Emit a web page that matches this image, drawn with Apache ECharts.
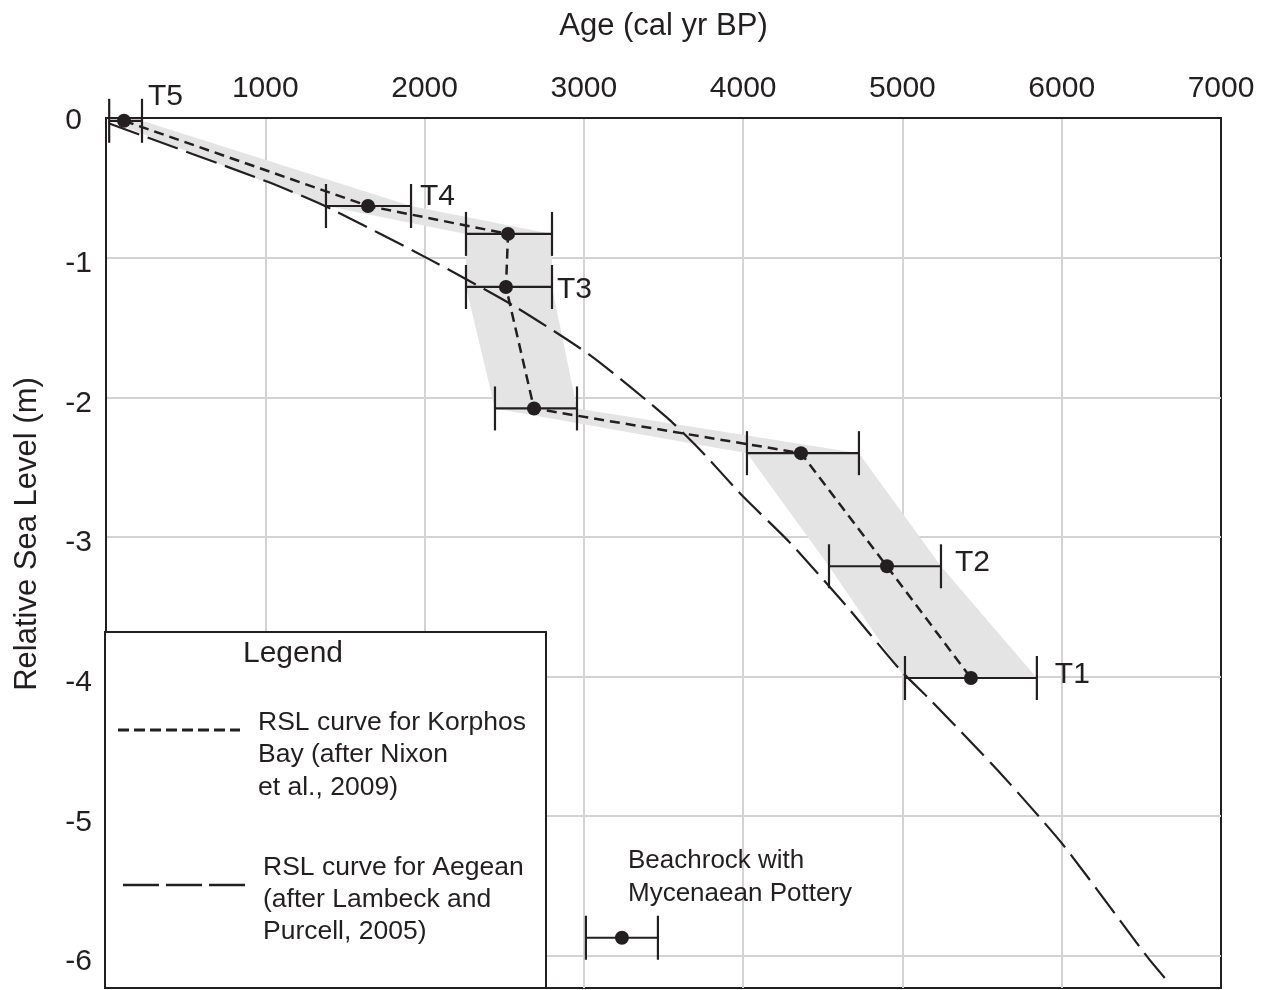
<!DOCTYPE html>
<html>
<head>
<meta charset="utf-8">
<title>RSL Korphos Bay</title>
<script src="https://cdn.jsdelivr.net/npm/echarts@6/dist/echarts.min.js"></script>
<style>
  html, body { margin: 0; padding: 0; background: #fff; }
  #chart { width: 1266px; height: 990px; }
</style>
</head>
<body>
<div id="chart"></div>
<script>
// Korphos Bay samples (T5 .. T1), age in cal yr BP, RSL in m
const sampleLabels = ['T5', 'T4', '', 'T3', '', '', 'T2', 'T1'];
const sampleAge = [113, 1645, 2524, 2511, 2687, 4363, 4903, 5430];
const sampleRsl = [-0.02, -0.63, -0.83, -1.21, -2.08, -2.40, -3.21, -4.01];
const sampleAgeMin = [20, 1381, 2260, 2260, 2442, 4024, 4539, 5016];
const sampleAgeMax = [226, 1915, 2800, 2800, 2957, 4727, 5242, 5844];

// beachrock with Mycenaean pottery
const beachAge = [3239];
const beachRsl = [-5.87];
const beachAgeMin = [3013];
const beachAgeMax = [3465];

// Aegean curve (Lambeck and Purcell, 2005)
const aegeanAge = [20, 1011, 1381, 2034, 2567, 3051, 3522, 3729, 4000, 4294, 4652, 4984, 5173, 5612, 6008, 6541, 6667];
const aegeanRsl = [-0.04, -0.455, -0.634, -1.014, -1.35, -1.708, -2.145, -2.375, -2.711, -3.041, -3.499, -3.95, -4.165, -4.688, -5.204, -6.013, -6.185];

// label nudges (px) next to the right end of each error bar
const labelDx = [6, 9, 0, 5, 0, 0, 14, 18];
const labelDy = [-24, -9, 0, 3, 0, 0, -4, -3];

const ink = '#231f20';
const font = '"Liberation Sans", Arial, Helvetica, sans-serif';

var myChart = echarts.init(document.getElementById('chart'));

function errorBar(params, api) {
    const y = api.value(1);
    const lo = api.coord([api.value(2), y]);
    const hi = api.coord([api.value(3), y]);
    const cap = 22;
    const style = { stroke: ink, lineWidth: 2.2 };
    const children = [
        { type: 'line', shape: { x1: lo[0], y1: lo[1], x2: hi[0], y2: hi[1] }, style: style },
        { type: 'line', shape: { x1: lo[0], y1: lo[1] - cap, x2: lo[0], y2: lo[1] + cap }, style: style },
        { type: 'line', shape: { x1: hi[0], y1: hi[1] - cap, x2: hi[0], y2: hi[1] + cap }, style: style }
    ];
    const name = params.seriesName === 'samples' ? sampleLabels[params.dataIndex] : '';
    if (name) {
        children.push({
            type: 'text',
            x: hi[0] + labelDx[params.dataIndex],
            y: hi[1] + labelDy[params.dataIndex],
            style: { text: name, fill: ink, font: '30px ' + font, textAlign: 'left', textVerticalAlign: 'middle' }
        });
    }
    return { type: 'group', children: children };
}

function band(params, api) {
    const pts = [];
    for (let i = 0; i < sampleAge.length; i++) {
        pts.push(api.coord([sampleAgeMax[i], sampleRsl[i]]));
    }
    for (let i = sampleAge.length - 1; i >= 0; i--) {
        pts.push(api.coord([sampleAgeMin[i], sampleRsl[i]]));
    }
    return { type: 'polygon', shape: { points: pts }, style: { fill: '#e4e4e4' } };
}

myChart.setOption({
    animation: false,
    textStyle: { fontFamily: font, color: ink },
    grid: {
        left: 106, top: 118, right: 45, bottom: 2,
        show: true,
        borderColor: ink,
        borderWidth: 2
    },
    xAxis: {
        type: 'value',
        position: 'top',
        min: 0,
        max: 7000,
        interval: 1000,
        name: 'Age (cal yr BP)',
        nameLocation: 'middle',
        nameGap: 76,
        nameTextStyle: { fontSize: 31, color: ink, fontFamily: font },
        axisLine: { show: true, lineStyle: { color: ink, width: 2 } },
        axisTick: { show: false },
        axisLabel: {
            fontSize: 30, color: ink, margin: 14, showMinLabel: false,
            formatter: function (v) { return String(v); }
        },
        splitLine: { showMinLine: false, showMaxLine: false, lineStyle: { color: '#d3d3d3', width: 2 } }
    },
    yAxis: {
        type: 'value',
        min: -6.23,
        max: 0,
        axisLine: { show: true, lineStyle: { color: ink, width: 2 } },
        axisTick: { show: false },
        axisLabel: {
            fontSize: 30, color: ink, margin: 14, showMinLabel: false,
            formatter: function (v) { return v === 0 ? '{z|0}' : '{n|' + v + '}'; },
            rich: {
                n: { fontSize: 30, color: ink, fontFamily: font, padding: [12, 0, 0, 0] },
                z: { fontSize: 30, color: ink, fontFamily: font, padding: [6, 10, 0, 0] }
            }
        },
        splitLine: { showMinLine: false, showMaxLine: false, lineStyle: { color: '#d3d3d3', width: 2 } }
    },
    series: [
        {
            name: 'band',
            type: 'custom',
            renderItem: band,
            data: [[sampleAge[0], sampleRsl[0]]],
            z: 1,
            silent: true
        },
        {
            name: 'Aegean',
            type: 'line',
            data: aegeanAge.map((a, i) => [a, aegeanRsl[i]]),
            showSymbol: false,
            smooth: 0.2,
            lineStyle: { color: ink, width: 2.2, type: [32, 9] },
            z: 3
        },
        {
            name: 'Korphos',
            type: 'line',
            data: sampleAge.map((a, i) => [a, sampleRsl[i]]),
            showSymbol: false,
            lineStyle: { color: ink, width: 2.5, type: [10, 6] },
            z: 4
        },
        {
            name: 'samples',
            type: 'custom',
            renderItem: errorBar,
            data: sampleAge.map((a, i) => [a, sampleRsl[i], sampleAgeMin[i], sampleAgeMax[i]]),
            z: 5
        },
        {
            name: 'beachrock',
            type: 'custom',
            renderItem: errorBar,
            data: beachAge.map((a, i) => [a, beachRsl[i], beachAgeMin[i], beachAgeMax[i]]),
            z: 5
        },
        {
            name: 'dots',
            type: 'scatter',
            symbolSize: 14,
            itemStyle: { color: ink, opacity: 1 },
            data: sampleAge.map((a, i) => [a, sampleRsl[i]]).concat(beachAge.map((a, i) => [a, beachRsl[i]])),
            z: 6
        }
    ],
    graphic: [
        {
            type: 'text', x: 27, y: 534, rotation: Math.PI / 2, z: 100,
            style: { text: 'Relative Sea Level (m)', font: '31px ' + font, fill: ink, textAlign: 'center', textVerticalAlign: 'middle' }
        },
        {
            type: 'text', x: 628, y: 844, z: 100,
            style: { text: 'Beachrock with\nMycenaean Pottery', font: '26px ' + font, lineHeight: 33, fill: ink, textAlign: 'left', textVerticalAlign: 'top' }
        },
        {
            type: 'rect', z: 100,
            shape: { x: 105, y: 632, width: 441, height: 356 },
            style: { fill: '#fff', stroke: ink, lineWidth: 2 }
        },
        {
            type: 'text', x: 293, y: 654, z: 101,
            style: { text: 'Legend', font: '30px ' + font, fill: ink, textAlign: 'center', textVerticalAlign: 'middle' }
        },
        {
            type: 'line', z: 101,
            shape: { x1: 118, y1: 730, x2: 240, y2: 730 },
            style: { stroke: ink, lineWidth: 3, lineDash: [11, 5] }
        },
        {
            type: 'text', x: 258, y: 706, z: 101,
            style: { text: 'RSL curve for Korphos\nBay (after Nixon\net al., 2009)', font: '26.5px ' + font, lineHeight: 32.5, fill: ink, textAlign: 'left', textVerticalAlign: 'top' }
        },
        {
            type: 'line', z: 101,
            shape: { x1: 123, y1: 885, x2: 250, y2: 885 },
            style: { stroke: ink, lineWidth: 2.5, lineDash: [36, 7] }
        },
        {
            type: 'text', x: 263, y: 852, z: 101,
            style: { text: 'RSL curve for Aegean\n(after Lambeck and\nPurcell, 2005)', font: '26.5px ' + font, lineHeight: 32, fill: ink, textAlign: 'left', textVerticalAlign: 'top' }
        }
    ]
});
</script>
</body>
</html>
